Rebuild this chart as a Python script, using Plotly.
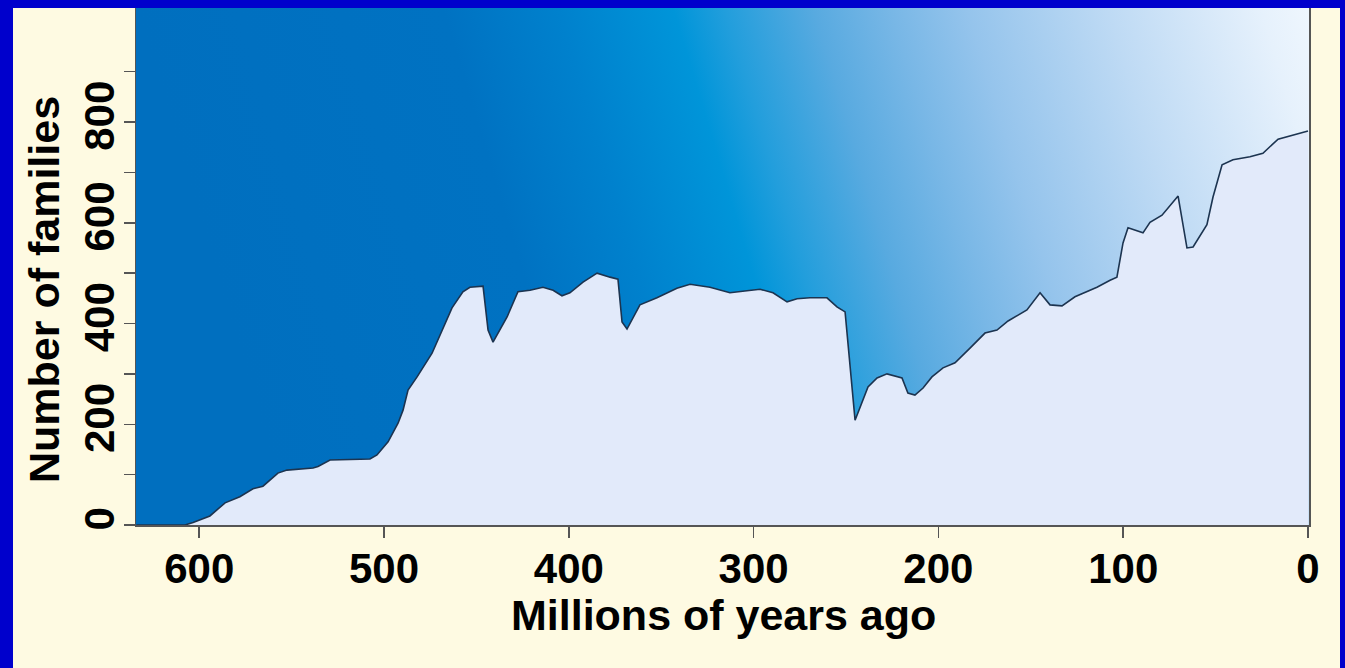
import base64
import plotly.graph_objects as go

# ---- data ----
ma = [634, 607.7, 603.3, 594.2, 586.0, 578.0, 570.9, 565.5, 557.4, 552.5, 538.4, 535.7,
      529.2, 507.6, 503.8, 497.8, 492.4, 489.7, 487.0, 482.1, 474.0, 468.6, 463.2, 457.3,
      453.5, 446.4, 443.7, 441.0, 433.4, 427.5, 421.0, 414.0, 408.5, 403.7, 399.4, 392.3,
      384.7, 377.7, 373.4, 371.2, 368.5, 361.5, 352.3, 341.5, 334.4, 323.6, 312.8, 303.6,
      296.5, 289.5, 281.9, 276.5, 269.5, 260.3, 254.9, 250.5, 245.1, 238.1, 233.2, 227.8,
      219.7, 216.5, 212.7, 208.3, 203.5, 197.5, 191.0, 182.9, 174.8, 168.3, 165.0, 162.3,
      152.1, 145.0, 139.6, 133.1, 126.1, 114.2, 107.1, 103.4, 100.1, 97.4, 89.3, 85.5,
      79.0, 70.3, 65.5, 62.2, 54.7, 51.4, 46.5, 40.6, 31.4, 24.4, 16.2, 8.1, 0.0]
families = [0, 0, 5, 18, 44, 56, 72, 77, 103, 109, 113, 116,
            129, 131, 139, 165, 202, 228, 268, 294, 341, 387, 431, 463,
            472, 474, 387, 363, 413, 463, 466, 472, 466, 455, 461, 482,
            500, 492, 488, 403, 389, 437, 451, 470, 478, 472, 461, 465,
            468, 461, 443, 449, 451, 451, 433, 423, 208, 274, 292, 300,
            292, 262, 258, 272, 294, 312, 322, 351, 381, 387, 397, 405,
            427, 461, 437, 435, 453, 472, 486, 492, 560, 590, 580, 601,
            615, 653, 550, 552, 596, 651, 715, 725, 731, 738, 766, 774, 782]

x_ticks = [600, 500, 400, 300, 200, 100, 0]
x_tick_labels = ["600", "500", "400", "300", "200", "100", "0"]
y_ticks = [0, 100, 200, 300, 400, 500, 600, 700, 800, 900]
y_tick_labels = ["0", "", "200", "", "400", "", "600", "", "800", ""]

x_title = "Millions of years ago"
y_title = "Number of families"

# ---- styling ----
W, H = 1345, 668
ML, MR, MT, MB = 136, 36, 8, 143
PW, PH = W - ML - MR, H - MT - MB
CREAM = "#fefae2"
BLUE = "#0000cc"
FONT = "Liberation Sans, Arial, sans-serif"
TICK_SIZE = 42
TITLE_SIZE = 43

svg = f'''<svg xmlns="http://www.w3.org/2000/svg" width="{PW}" height="{PH}" viewBox="0 0 {PW} {PH}" preserveAspectRatio="none">
<defs><linearGradient id="g" gradientUnits="userSpaceOnUse" x1="0" y1="0" x2="{PW}" y2="{-0.3*PW:.1f}">
<stop offset="0" stop-color="#006fbf"/>
<stop offset="0.24" stop-color="#0072c2"/>
<stop offset="0.33" stop-color="#0081cd"/>
<stop offset="0.42" stop-color="#0095d9"/>
<stop offset="0.46" stop-color="#229edc"/>
<stop offset="0.53" stop-color="#58aae0"/>
<stop offset="0.59" stop-color="#78b7e6"/>
<stop offset="0.65" stop-color="#95c4ec"/>
<stop offset="0.76" stop-color="#bedaf4"/>
<stop offset="0.88" stop-color="#e6f1fc"/>
<stop offset="0.95" stop-color="#f6fbff"/>
<stop offset="1" stop-color="#ffffff"/>
</linearGradient></defs>
<rect x="0" y="0" width="{PW}" height="{PH}" fill="url(#g)"/>
</svg>'''
svg_uri = "data:image/svg+xml;base64," + base64.b64encode(svg.encode()).decode()

fig = go.Figure()
fig.add_trace(go.Scatter(
    x=ma, y=families, mode="lines", fill="tozeroy",
    fillcolor="#e2eafa", line=dict(color="#1c3450", width=1.6),
    hoverinfo="skip", showlegend=False,
))

def px2paper_x(px):
    return (px - ML) / PW

def py2paper_y(py):
    return (H - MB - py) / PH

shapes = [
    dict(type="rect", xref="paper", yref="paper", layer="above",
         x0=px2paper_x(0), x1=px2paper_x(W), y0=py2paper_y(8), y1=py2paper_y(0),
         fillcolor=BLUE, line=dict(width=0)),
    dict(type="rect", xref="paper", yref="paper", layer="above",
         x0=px2paper_x(0), x1=px2paper_x(13), y0=py2paper_y(H), y1=py2paper_y(0),
         fillcolor=BLUE, line=dict(width=0)),
    dict(type="rect", xref="paper", yref="paper", layer="above",
         x0=px2paper_x(1340), x1=px2paper_x(W), y0=py2paper_y(H), y1=py2paper_y(0),
         fillcolor=BLUE, line=dict(width=0)),
]

title_font = dict(family=FONT, size=TITLE_SIZE, weight="bold", color="black")
annotations = [
    dict(text=x_title, xref="paper", yref="paper", x=px2paper_x(723), y=py2paper_y(615),
         xanchor="center", yanchor="middle", showarrow=False, font=title_font),
    dict(text=y_title, xref="paper", yref="paper", x=px2paper_x(44), y=py2paper_y(290),
         xanchor="center", yanchor="middle", showarrow=False, textangle=-90, font=title_font),
]

fig.update_layout(
    width=W, height=H,
    margin=dict(l=ML, r=MR, t=MT, b=MB, autoexpand=False),
    paper_bgcolor=CREAM, plot_bgcolor="#006fbf",
    font=dict(family=FONT, color="black"),
    images=[dict(source=svg_uri, xref="paper", yref="paper", x=0, y=1,
                 sizex=1, sizey=1, xanchor="left", yanchor="top",
                 sizing="stretch", layer="below")],
    shapes=shapes,
    annotations=annotations,
    showlegend=False,
    hovermode=False,
)
fig.update_xaxes(
    automargin=False,
    range=[634.2, -0.54], tickmode="array", tickvals=x_ticks, ticktext=x_tick_labels,
    ticks="outside", ticklen=11, tickwidth=1.5, tickcolor="#555555",
    showline=True, linecolor="#555555", linewidth=1.5, mirror=True,
    showgrid=False, zeroline=False, ticklabelstandoff=-5,
    tickfont=dict(family=FONT, size=TICK_SIZE, weight="bold", color="black"),
)
fig.update_yaxes(
    automargin=False,
    range=[0, 1026.3], tickmode="array", tickvals=y_ticks, ticktext=y_tick_labels,
    tickangle=-90,
    ticks="outside", ticklen=11, tickwidth=1.5, tickcolor="#555555",
    showline=True, linecolor="#555555", linewidth=1.5, mirror=True,
    showgrid=False, zeroline=False, ticklabelstandoff=-7,
    tickfont=dict(family=FONT, size=TICK_SIZE, weight="bold", color="black"),
)

fig.write_html(
    "out.html",
    config=dict(displayModeBar=False, staticPlot=True),
    post_script="document.body.style.margin='0';document.body.style.padding='0';"
                "document.body.style.overflow='hidden';",
)
